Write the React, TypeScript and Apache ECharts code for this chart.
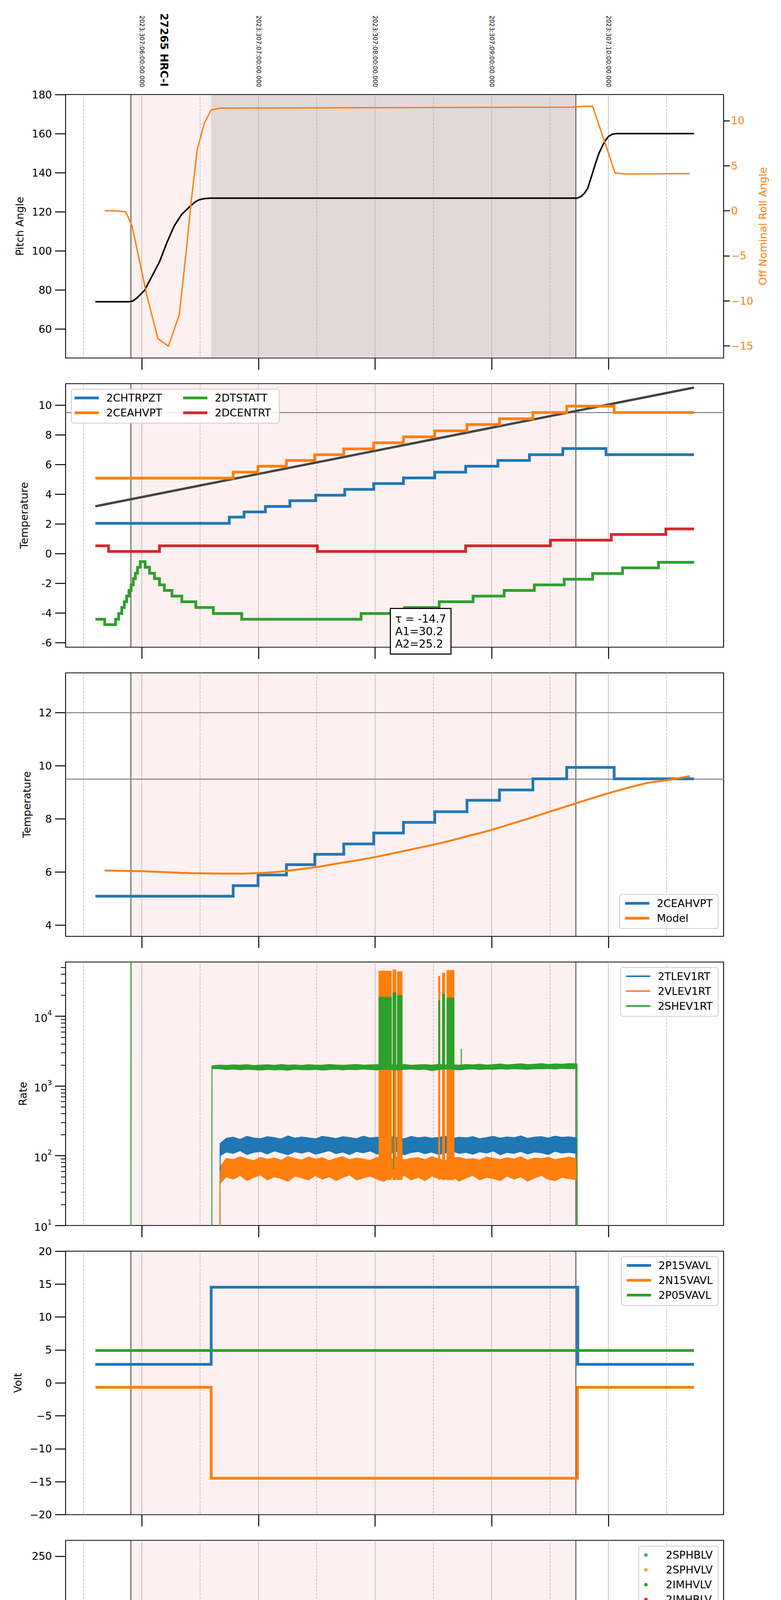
import { useEffect, useRef } from 'react'
import * as echarts from 'echarts'

// time axis: minutes after 00:00 local on 2023-11-03
const T_MIN = 80.8
const T_MAX = 419.3
const HOUR_TICKS = [120, 180, 240, 300, 360]
const HALF_HOUR_TICKS = [90, 150, 210, 270, 330, 390]
const OBS_START = 114.4
const OBS_END = 343.3
const DWELL_START = 155.7
const OBS_LABEL_T = 131.6
const OBS_LABEL = '27265 HRC-I'
const DATE_TITLE = '2023-11-03 (307)'
const TAU_TEXT = 'τ = -14.7\nA1=30.2\nA2=25.2'

const BLUE = '#1f77b4'
const ORANGE = '#ff7f0e'
const GREEN = '#2ca02c'
const RED = '#d62728'
const PINK = '#fdf0f0'
const DWELL = '#e3d8d8'
const GRID_GREY = '#b0b0b0'

// ---- y ticks ----
const PITCH_TICKS = [60, 80, 100, 120, 140, 160, 180]
const ROLL_TICKS = [-15, -10, -5, 0, 5, 10]
const TEMP_TICKS = [-6, -4, -2, 0, 2, 4, 6, 8, 10]
const MODEL_TICKS = [4, 6, 8, 10, 12]
const RATE_DECADES = [1, 2, 3, 4]
const VOLT_TICKS = [-20, -15, -10, -5, 0, 5, 10, 15, 20]
const HV_TICKS = [0, 50, 100, 150, 200, 250]
const DET_TICKS = [0, 2.5, 5, 7.5, 10, 12.5, 15, 17.5]
const FEA_TICKS = [-10, -8, -6, -4, -2, 0]

// ---- panel 1: attitude ----
const pitch = [[96.1, 74], [113.2, 74], [115.2, 74.3], [117.5, 75.9], [121.4, 79.8], [125.3, 87.2], [129.1, 94.4], [132.9, 104.2], [136.7, 112.8], [140.6, 118.8], [144.5, 122.5], [147.4, 125], [149.6, 126.2], [152.4, 126.8], [155.4, 127], [344, 127], [346.2, 128], [347.7, 129.5], [349.4, 132], [351.3, 138], [353.3, 144.4], [355.2, 150], [357.1, 154], [358.8, 157], [360.2, 158.6], [361.8, 159.6], [363.8, 160], [404.1, 160]]
const roll = [[100.9, 0], [106.5, 0], [111.7, -0.12], [115, -1.7], [122.6, -9.4], [128.3, -14.2], [133.7, -15.04], [139.3, -11.52], [142.4, -5.42], [145.5, 1.2], [148.5, 6.77], [152.1, 9.69], [155.7, 11.2], [160.6, 11.39], [251.1, 11.45], [341.7, 11.5], [344.3, 11.55], [347.3, 11.6], [351.9, 11.6], [363.5, 4.2], [368.7, 4.08], [381.9, 4.1], [401.9, 4.12]]

// ---- panel 2: temperatures (step starts) ----
const chtrpzt = [[96.1, 2.04], [165, 2.46], [172.6, 2.81], [183.6, 3.18], [196.2, 3.57], [209.5, 3.94], [224.4, 4.33], [239.3, 4.72], [254.6, 5.1], [270.7, 5.49], [286.6, 5.89], [303.2, 6.28], [319.4, 6.67], [336.6, 7.08], [358.8, 6.67]]
const ceahvpt = [[96.1, 5.09], [167, 5.49], [179.8, 5.89], [194.4, 6.28], [209, 6.67], [223.9, 7.06], [239.3, 7.47], [254.6, 7.87], [270.7, 8.27], [287.3, 8.7], [304, 9.09], [321.2, 9.51], [338.6, 9.94], [363, 9.51]]
const dtstatt = [[96.1, -4.42], [100.9, -4.78], [106.5, -4.42], [108.1, -4.03], [109.7, -3.63], [111, -3.24], [112.2, -2.86], [113.4, -2.48], [114.5, -2.1], [115.6, -1.68], [116.7, -1.32], [117.8, -0.92], [119.2, -0.54], [121.7, -0.92], [124, -1.32], [126.5, -1.68], [129.1, -2.1], [131.6, -2.48], [135.5, -2.86], [140.6, -3.24], [147.8, -3.63], [156.8, -4.03], [171.4, -4.42], [232.8, -4.03], [255.1, -3.63], [273, -3.24], [290.4, -2.86], [306.4, -2.48], [321.9, -2.1], [337.3, -1.72], [351.9, -1.34], [367.3, -0.96], [385.8, -0.58]]
const dcentrt = [[96.1, 0.53], [102.9, 0.15], [129.1, 0.53], [210.3, 0.15], [286.6, 0.53], [330.2, 0.91], [361.5, 1.29], [389.6, 1.67]]
const trendLine = [[96.1, 3.19], [404.1, 11.19]]
const TEMP_LIMIT = 9.5

// ---- panel 3: model ----
const model = [[100.9, 6.06], [121.4, 6.03], [144.4, 5.96], [162.4, 5.94], [172.6, 5.94], [182.8, 5.97], [190.6, 6.01], [200.8, 6.1], [211, 6.2], [221.3, 6.33], [231.5, 6.45], [241.8, 6.59], [252.1, 6.75], [262.3, 6.91], [270, 7.03], [277.7, 7.16], [287.9, 7.36], [298.2, 7.55], [308.5, 7.78], [318.7, 8.01], [328.9, 8.25], [339.2, 8.49], [349.4, 8.73], [359.6, 8.96], [369.9, 9.17], [380.1, 9.36], [390.4, 9.46], [401.9, 9.61]]
const MODEL_LIMITS = [12, 9.5]

// ---- panel 4: rates (noisy envelopes) ----
const rateTimes = [156.1, 160.3, 163.5, 167, 170.6, 174.1, 177.6, 181.1, 184.6, 188.2, 191.7, 195.2, 198.7, 202.3, 205.8, 209.3, 212.8, 216.4, 219.9, 223.4, 226.9, 230.4, 234, 237.5, 241, 244.5, 248.1, 251.6, 255.1, 258.6, 262.2, 265.7, 269.2, 272.7, 276.2, 279.8, 283.3, 286.8, 290.3, 293.8, 297.4, 300.9, 304.4, 307.9, 311.5, 315, 318.5, 322, 325.6, 329.1, 332.6, 336.1, 339.7, 343.9]
const shevHi = [1950, 2000, 1980, 2010, 1990, 2030, 1970, 2000, 2020, 1985, 2040, 1995, 2010, 1980, 2025, 2000, 1990, 2035, 2005, 1985, 2015, 2045, 1995, 2010, 2030, 1990, 2020, 2000, 2040, 1985, 2010, 2030, 1995, 2050, 2005, 2020, 1990, 2040, 2010, 2060, 2000, 2030, 2070, 2015, 2050, 2090, 2030, 2060, 2100, 2040, 2080, 2060, 2100, 2080]
const shevLo = [1780, 1760, 1720, 1750, 1700, 1740, 1710, 1690, 1730, 1700, 1720, 1680, 1740, 1710, 1700, 1730, 1690, 1720, 1740, 1700, 1730, 1710, 1750, 1720, 1700, 1740, 1720, 1690, 1730, 1750, 1710, 1740, 1660, 1720, 1750, 1730, 1700, 1740, 1760, 1720, 1750, 1730, 1760, 1740, 1770, 1750, 1730, 1770, 1760, 1780, 1750, 1790, 1770, 1780]
const tlevHi = [null, 150, 178, 185, 172, 190, 180, 176, 188, 182, 174, 193, 179, 186, 181, 175, 190, 184, 177, 188, 183, 176, 191, 180, 185, 178, 187, 182, 176, 189, 181, 186, 179, 184, 190, 177, 185, 181, 188, 176, 183, 190, 179, 186, 182, 192, 178, 185, 188, 180, 191, 184, 187, 180]
const tlevLo = [null, 100, 113, 108, 118, 104, 112, 115, 106, 117, 110, 103, 114, 109, 116, 105, 111, 118, 107, 113, 104, 115, 110, 117, 106, 112, 108, 116, 103, 111, 115, 107, 113, 104, 110, 116, 108, 112, 105, 114, 109, 117, 103, 112, 108, 115, 106, 113, 110, 104, 116, 109, 112, 108]
const vlevHi = [null, 70, 92, 88, 97, 90, 85, 95, 89, 93, 86, 98, 91, 87, 96, 90, 94, 85, 92, 97, 88, 93, 90, 86, 95, 91, 89, 96, 87, 92, 94, 88, 97, 90, 86, 93, 95, 89, 91, 87, 96, 92, 88, 94, 90, 97, 86, 93, 91, 95, 88, 92, 96, 90]
const vlevLo = [null, 40, 50, 46, 52, 44, 49, 53, 45, 50, 47, 43, 51, 48, 45, 52, 46, 50, 44, 49, 53, 45, 48, 51, 46, 43, 50, 47, 52, 45, 49, 44, 51, 47, 46, 50, 43, 48, 52, 45, 49, 47, 44, 51, 46, 50, 43, 48, 52, 46, 44, 49, 47, 45]
const vlevSpikes = [[241.8, 248.6, 45, 45000], [249, 250.9, 45, 47000], [251.3, 254.1, 45, 44000], [272.5, 273.5, 45, 38000], [274.5, 276, 45, 42000], [276.8, 280.8, 45, 46000]]
const shevSpikes = [[241.8, 248.6, 1800, 19000], [249, 250.9, 1800, 22000], [251.3, 254.1, 1800, 20000], [272.5, 273.5, 1800, 17000], [274.5, 276, 1800, 21000], [276.8, 280.8, 1800, 18500], [249.3, 249.7, 64, 1800], [284.1, 284.6, 1800, 3400]]
const shevEdges = [[[114.4, 1], [114.5, 1e6]], [[156, 1], [156.1, 1850]], [[343.9, 1850], [344, 1]]]
const tlevEdges = [[[160.2, 1], [160.3, 140]], [[343.9, 140], [344, 1]]]
const vlevEdges = [[[160, 1], [160.2, 60]], [[343.9, 65], [344, 1]]]

// ---- panel 5: voltages ----
const p15vavl = [[96.1, 2.82], [155.7, 14.53], [344.3, 2.82]]
const n15vavl = [[96.1, -0.66], [155.7, -14.47], [344.1, -0.66]]
const p05vavl = [[96.1, 4.92]]

// ---- panel 6: HV monitor ----
const imhblvDecay = [[157.3, 127.4], [157.3, 125.5], [157.4, 123], [157.5, 120.4], [157.6, 115], [157.7, 111.3], [157.9, 105.8], [158.1, 102.1], [158.3, 99], [158.5, 96.6], [158.8, 93], [159.1, 90.5], [159.4, 89.3], [159.7, 87.8]]
const imhblvFlat = [[159.7, 86.7], [344.3, 86.7]]
const imhblvExtra = [[241.6, 79.7], [242.3, 79.7], [243, 79.7], [243.7, 79.7], [244.3, 79.7], [247.6, 79.7], [248.3, 79.7], [249, 79.7], [249.7, 79.7], [250.4, 79.7]]
const imhvlvDecay = [[157.3, 102], [157.8, 97.3], [158.5, 91], [159.2, 86.3], [159.8, 82]]
const imhvlvFlat = [[160, 80.1], [344.3, 80.1]]
const imhvlvExtra = [[241.6, 127.4], [242.3, 127.4], [243, 127.4], [243.7, 127.4], [244.3, 127.4], [247.6, 127.4], [248.3, 127.4], [249, 127.4], [249.7, 127.4], [250.4, 127.4]]
const sphblv: number[][] = []
const sphvlv: number[][] = []

// ---- panel 7: detector temps ----
const spinatm = [[155.7, 3.72], [167.5, 3.25], [264.3, 3.72], [306.3, 4.16]]
const sphvatm = [[155.7, 14.43], [193.1, 14.72], [209.7, 15.0], [228.4, 15.29], [241.8, 15.56], [257.6, 15.85], [272.5, 16.1], [286.6, 16.38], [301.2, 16.68], [315.5, 16.96], [329.6, 17.25]]
const iminatm = [[155.7, 1.07], [194.4, 1.51], [284.1, 1.96], [339.9, 2.37]]
const imhvatm = [[155.7, -1], [155.8, 13.87], [166.5, 14.15], [173.2, 14.43], [179.8, 14.72], [187, 15.0], [194.1, 15.28], [201.9, 15.56], [211, 15.84], [220.3, 16.1], [229.7, 16.4], [252.1, 16.96], [264.9, 17.28], [276.3, 17.54], [290.4, 17.82], [303.3, 18.1], [317.3, 18.41], [331.4, 18.69], [344.1, 25], [344.2, -2]]
const spinatmSpikes = [[241, 252.1, 0, 3.25], [253.1, 254.1, 0, 3.25], [273.8, 275.6, 0, 3.7], [278.5, 280.3, 0, 3.7]]
const sphvatmSpikes = [[241, 254.1, 10.75, 15.56], [241.6, 242.4, 10.5, 11], [273.8, 276.3, 11.37, 16.1], [277.7, 280.3, 11.37, 16.1]]
const iminatmSpikes = [[241, 252.1, 1.5, 3.3], [253.1, 254.1, 1.5, 3.3], [274.5, 275.8, 1.5, 3.79], [278.2, 279.7, 1.5, 3.79]]
const imhvatmSpikes = [[240.5, 254.1, 15.44, 16.78], [249.3, 250.1, 10.8, 16.78], [272.5, 276.3, 16.1, 17.3], [277.7, 279.7, 16.1, 17.54]]

// ---- panel 8: FEA temps ----
const fhtrmzt = [[96.1, -9.22], [148.9, -8.8], [170.6, -8.39], [178.5, -7.99], [186.2, -7.57], [193.1, -7.18], [201.4, -6.77], [209, -6.37], [216.6, -5.98], [224.6, -5.58], [232.9, -5.18], [241, -4.81], [249.5, -4.43], [257.6, -4.04], [266.7, -3.66], [275.8, -3.27], [285.3, -2.89], [294.6, -2.51], [304, -2.13], [314.3, -1.75], [324.3, -1.38], [334.2, -1.0], [344.3, -0.63], [374.2, -1.0]]
const fradpyt = [[96.1, -10.6], [138.5, -10.07], [146.2, -10.6], [175.7, -10.07], [184.1, -9.6], [192.7, -9.22], [200.8, -8.8], [209.5, -8.39], [218.3, -7.99], [227.2, -7.57], [236.2, -7.18], [245.1, -6.77], [254.6, -6.37], [264.3, -5.98], [273.8, -5.58], [283.3, -5.18], [293.8, -4.81], [304.5, -4.43], [315.3, -4.04], [325.8, -3.66], [337.3, -3.27]]
const fepratm = [[155.7, -7.85], [156.5, -7.4], [157.3, -7.0], [159.8, -6.6], [162.4, -6.2], [165.4, -5.8], [168.7, -5.42], [172.6, -5.0], [178.3, -4.62], [184.6, -4.22], [191.1, -3.83], [198.7, -3.43], [206.5, -3.03], [214.1, -2.64], [222.6, -2.27], [231.5, -1.88], [252.1, -1.44], [259.7, -1.05], [269.5, -0.65], [280.2, -0.25], [290.4, 0.18], [300.7, 0.59], [312.3, 0.96], [323.8, 1.35], [336.5, 1.79]]
const fe00atm = [[155.7, -11], [155.8, -6.71], [165.4, -6.35], [171.9, -5.98], [178.3, -5.7], [182.8, -5.28], [188, -4.9], [194.4, -4.53], [200.9, -4.2], [204.7, -3.83], [211, -3.47], [218.3, -3.1], [223.8, -2.8], [230.2, -2.45], [236.7, -2.12], [254.1, -1.5], [258.4, -1.12], [262.2, -0.78], [280.2, -0.13], [287.9, 0.2], [295.6, 0.51], [303.3, 0.82], [311, 1.15], [318.6, 1.46], [327.6, 1.76], [336.5, 1.93], [344.1, 5], [344.2, -12]]
const fepratmSpikes = [[241, 252.1, -4.65, -1.88], [253.3, 254.3, -4.65, -1.88], [274.2, 275, -4.65, -0.65]]
const fe00atmSpikes = [[241, 254.1, -1.86, 3], [272.5, 280.3, -0.8, 3], [249.3, 250.1, -11, 3], [182.1, 182.6, -6.1, -5.7], [186.5, 187, -5.28, -4.5], [203.2, 203.7, -4.6, -4.2], [230.7, 231.2, -2.45, -2.0], [265.2, 265.7, -0.78, -0.4], [310, 310.5, 0.82, 1.46], [322.7, 323.2, 0.43, 1.46]]

// ---- layout ----
const GRID_L = 168
const GRID_R = 147
const TOP0 = 242
const PANEL_STEP = 740.25
const PANEL_H = 674.5
const panelTop = (i: number) => TOP0 + PANEL_STEP * i
const FONT = 'DejaVu Sans'

const minus = (v: number) => String(v).replace('-', '\u2212')
const plain = (v: number) => String(v)
const lg = (v: number) => Math.log10(v)
const RATE_MAX = lg(60000)

const PANELS = [
  { min: 45.2, max: 180, ticks: PITCH_TICKS, name: 'Pitch Angle', gap: 104, fmt: plain },
  { min: -6.3, max: 11.45, ticks: TEMP_TICKS, name: 'Temperature', gap: 93, fmt: plain },
  { min: 3.58, max: 13.5, ticks: MODEL_TICKS, name: 'Temperature', gap: 86, fmt: plain },
  { min: 1, max: RATE_MAX, ticks: RATE_DECADES, name: 'Rate', gap: 96, fmt: (v: number) => `{b|10}{s|${v}}` },
  { min: -20, max: 20, ticks: VOLT_TICKS, name: 'Volt', gap: 109, fmt: minus },
  { min: 0, max: 266, ticks: HV_TICKS, name: 'HV Monitor', gap: 103, fmt: plain },
  { min: 0, max: 19.31, ticks: DET_TICKS, name: 'Detector Temp', gap: 112, fmt: (v: number) => v.toFixed(1) },
  { min: -10.31, max: 1.97, ticks: FEA_TICKS, name: 'FEA Temp', gap: 109, fmt: plain },
]

const withEnd = (steps: number[][], tEnd: number) => [...steps, [tEnd, steps[steps.length - 1][1]]]

function line(name: string, g: number, data: any[], color: string, width: number, step = false, y?: number) {
  return {
    type: 'line', name, xAxisIndex: g, yAxisIndex: y ?? g, data,
    showSymbol: false, symbol: 'none', step: step ? 'end' : false,
    lineStyle: { color, width, cap: 'butt', join: 'miter' },
    itemStyle: { color }, z: 3, silent: true, animation: false,
  }
}

function decorSeries(g: number, yRef: number, dwell: boolean) {
  return {
    type: 'custom', name: '_decor' + g, xAxisIndex: g, yAxisIndex: g, z: 1, silent: true,
    data: [[T_MIN, yRef]],
    renderItem: (params: any, api: any) => {
      const cs = params.coordSys
      const px = (t: number) => api.coord([t, yRef])[0]
      const kids: any[] = []
      const shade = (t0: number, t1: number, fill: string) =>
        kids.push({ type: 'rect', shape: { x: px(t0), y: cs.y + 1.2, width: px(t1) - px(t0), height: cs.height - 2.4 }, style: { fill } })
      const vline = (t: number, stroke: string, w: number, dash?: number[]) =>
        kids.push({ type: 'line', shape: { x1: px(t), y1: cs.y, x2: px(t), y2: cs.y + cs.height }, style: { stroke, lineWidth: w, lineDash: dash } })
      shade(OBS_START, OBS_END, PINK)
      if (dwell) shade(DWELL_START, OBS_END, DWELL)
      HALF_HOUR_TICKS.forEach((t) => vline(t, GRID_GREY, 1.4, [6, 3]))
      HOUR_TICKS.forEach((t) => vline(t, GRID_GREY, 1.4))
      vline(OBS_START, '#000', 1.5)
      vline(OBS_END, '#000', 1.5)
      return { type: 'group', children: kids }
    },
  }
}

function bandSeries(name: string, g: number, hi: (number | null)[], lo: (number | null)[], color: string) {
  const first = hi.findIndex((v) => v != null)
  return {
    type: 'custom', name, xAxisIndex: g, yAxisIndex: g, z: 3, silent: true,
    data: [[rateTimes[first], lg(hi[first] as number)]],
    renderItem: (_p: any, api: any) => {
      const top: number[][] = []
      const bottom: number[][] = []
      rateTimes.forEach((t, k) => {
        if (hi[k] == null) return
        top.push(api.coord([t, lg(hi[k] as number)]))
        bottom.push(api.coord([t, lg(lo[k] as number)]))
      })
      return { type: 'polygon', shape: { points: top.concat(bottom.reverse()) }, style: { fill: color, stroke: color, lineWidth: 2 } }
    },
  }
}

function blockSeries(name: string, g: number, blocks: number[][], color: string, tf: (v: number) => number = (v) => v) {
  const p = PANELS[g]
  const cy = (v: number) => Math.min(Math.max(tf(v), p.min), p.max)
  return {
    type: 'custom', name, xAxisIndex: g, yAxisIndex: g, z: 3, silent: true,
    data: blocks.map((b) => [b[0], cy(b[2])]),
    renderItem: (params: any, api: any) => {
      const b = blocks[params.dataIndex]
      const p0 = api.coord([b[0], cy(b[3])])
      const p1 = api.coord([b[1], cy(b[2])])
      return { type: 'rect', shape: { x: p0[0], y: p0[1], width: Math.max(p1[0] - p0[0], 2.5), height: p1[1] - p0[1] }, style: { fill: color } }
    },
  }
}

function legendBox(items: [string, string][], pos: any, opts: any = {}) {
  return {
    show: true, orient: 'vertical', selectedMode: false, ...pos,
    data: items.map(([name, color]) => ({ name, itemStyle: { color, borderWidth: 0 } })),
    icon: opts.icon ?? 'rect', itemWidth: opts.itemWidth ?? 62, itemHeight: opts.itemHeight ?? 7, itemGap: 11,
    padding: opts.padding ?? [9, 14, 13, 14],
    backgroundColor: opts.bare ? 'transparent' : 'rgba(255,255,255,0.85)',
    borderColor: opts.bare ? 'transparent' : '#cccccc', borderWidth: opts.bare ? 0 : 2, borderRadius: 6,
    formatter: '{t|{name}}',
    textStyle: { color: '#000', fontSize: 27, fontFamily: FONT, rich: { t: { fontSize: 27, fontFamily: FONT, lineHeight: 30, padding: [0, 0, 0, opts.textGap ?? 14] } } },
  }
}

const legendH = (n: number) => 9 + 30 * n + 11 * (n - 1) + 13
const LEGEND_RIGHT = GRID_R + 14

function buildOption() {
  const tickStyle = { color: '#000', width: 2.5 }
  const grids = PANELS.map((_, i) => ({
    left: GRID_L, right: GRID_R, top: panelTop(i), height: PANEL_H,
    show: true, borderColor: '#000', borderWidth: 2.2, backgroundColor: 'transparent', containLabel: false, outerBoundsMode: 'none',
  }))

  const hiddenLine = { show: false, onZero: false }
  const xAxes: any[] = PANELS.map((_, i) => ({
    type: 'value', gridIndex: i, position: 'bottom', min: T_MIN, max: T_MAX,
    axisLine: hiddenLine, splitLine: { show: false },
    axisTick: { show: true, customValues: HOUR_TICKS, length: 30, lineStyle: tickStyle },
    axisLabel: i === 7
      ? { show: true, customValues: HOUR_TICKS, formatter: (v: number) => String(Math.round(v / 60)).padStart(2, '0') + 'h', fontSize: 27, margin: 36, color: '#000', fontFamily: FONT }
      : { show: false },
    ...(i === 7 ? { name: DATE_TITLE, nameLocation: 'middle', nameGap: 66, nameTextStyle: { fontSize: 33, color: '#000', fontFamily: FONT } } : {}),
  }))
  // minor "30" labels on the last panel
  xAxes.push({
    type: 'value', gridIndex: 7, position: 'bottom', min: T_MIN, max: T_MAX,
    axisLine: hiddenLine, splitLine: { show: false }, axisTick: { show: false },
    axisLabel: { show: true, customValues: HALF_HOUR_TICKS, formatter: () => '30', fontSize: 18, margin: 7, color: '#000', fontFamily: FONT },
  })
  // top labels on the first panel
  xAxes.push({
    type: 'value', gridIndex: 0, position: 'top', min: T_MIN, max: T_MAX,
    axisLine: hiddenLine, splitLine: { show: false }, axisTick: { show: false },
    axisLabel: {
      show: true, customValues: HOUR_TICKS, rotate: 90, margin: 19, fontSize: 15.5, color: '#000', fontFamily: FONT,
      formatter: (v: number) => `2023:307:${String(Math.round(v / 60) + 4).padStart(2, '0')}:00:00.000`,
    },
  })
  xAxes.push({
    type: 'value', gridIndex: 0, position: 'top', min: T_MIN, max: T_MAX,
    axisLine: hiddenLine, splitLine: { show: false }, axisTick: { show: false },
    axisLabel: { show: true, customValues: [OBS_LABEL_T], rotate: 90, margin: 20, fontSize: 27, fontWeight: 'bold', color: '#000', fontFamily: FONT, formatter: () => OBS_LABEL },
  })

  const yAxes: any[] = PANELS.map((p, i) => ({
    type: 'value', gridIndex: i, position: 'left', min: p.min, max: p.max,
    axisLine: hiddenLine, splitLine: { show: false },
    axisTick: { show: true, customValues: p.ticks, length: 27, lineStyle: tickStyle },
    axisLabel: {
      show: true, customValues: p.ticks, formatter: p.fmt, fontSize: 27, margin: 35, color: '#000', fontFamily: FONT,
      rich: { b: { fontSize: 27, fontFamily: FONT, color: '#000', lineHeight: 36, verticalAlign: 'bottom' }, s: { fontSize: 18, fontFamily: FONT, color: '#000', lineHeight: 18, verticalAlign: 'top' } },
    },
    name: p.name, nameLocation: 'middle', nameGap: p.gap, nameTextStyle: { fontSize: 27, color: '#000', fontFamily: FONT },
  }))
  // roll angle on the right of panel 1
  yAxes.push({
    type: 'value', gridIndex: 0, position: 'right', min: -16.35, max: 12.9,
    axisLine: hiddenLine, splitLine: { show: false },
    axisTick: { show: true, customValues: ROLL_TICKS, length: 16, lineStyle: tickStyle },
    axisLabel: { show: true, customValues: ROLL_TICKS, formatter: minus, fontSize: 27, margin: 19, color: ORANGE, fontFamily: FONT },
    name: 'Off Nominal Roll Angle', nameLocation: 'middle', nameGap: 84, nameTextStyle: { fontSize: 27, color: ORANGE, fontFamily: FONT },
  })
  // minor decade ticks on the rate panel
  const minorRate = RATE_DECADES.flatMap((d) => [2, 3, 4, 5, 6, 7, 8, 9].map((m) => d + lg(m))).filter((v) => v < RATE_MAX)
  yAxes.push({
    type: 'value', gridIndex: 3, position: 'left', min: 1, max: RATE_MAX,
    axisLine: hiddenLine, splitLine: { show: false }, axisLabel: { show: false },
    axisTick: { show: true, customValues: minorRate, length: 12, lineStyle: { color: '#000', width: 2 } },
  })

  const rl = (pts: number[][]) => pts.map(([t, v]) => [t, lg(v)])

  const series: any[] = [
    ...PANELS.map((p, i) => decorSeries(i, p.min, i === 0)),
    // panel 1
    line('Pitch', 0, pitch, '#000', 4),
    line('Roll', 0, roll, ORANGE, 3.5, false, 8),
    // panel 2
    line('_lim2', 1, [[T_MIN, TEMP_LIMIT], [T_MAX, TEMP_LIMIT]], '#808080', 2.5),
    line('_trend', 1, trendLine, '#444444', 6),
    line('2CHTRPZT', 1, withEnd(chtrpzt, 404.1), BLUE, 7, true),
    line('2CEAHVPT', 1, withEnd(ceahvpt, 404.1), ORANGE, 7, true),
    line('2DTSTATT', 1, withEnd(dtstatt, 404.1), GREEN, 7, true),
    line('2DCENTRT', 1, withEnd(dcentrt, 404.1), RED, 7, true),
    // panel 3
    ...MODEL_LIMITS.map((v, k) => line('_lim3_' + k, 2, [[T_MIN, v], [T_MAX, v]], '#808080', 2.5)),
    line('2CEAHVPT', 2, withEnd(ceahvpt, 404.1), BLUE, 7, true),
    line('Model', 2, model, ORANGE, 5),
    // panel 4
    bandSeries('2TLEV1RT', 3, tlevHi, tlevLo, BLUE),
    bandSeries('2VLEV1RT', 3, vlevHi, vlevLo, ORANGE),
    blockSeries('2VLEV1RT', 3, vlevSpikes, ORANGE, lg),
    bandSeries('2SHEV1RT', 3, shevHi, shevLo, GREEN),
    blockSeries('2SHEV1RT', 3, shevSpikes, GREEN, lg),
    ...tlevEdges.map((e) => line('2TLEV1RT', 3, rl(e), BLUE, 2.5)),
    ...vlevEdges.map((e) => line('2VLEV1RT', 3, rl(e), ORANGE, 2.5)),
    ...shevEdges.map((e) => line('2SHEV1RT', 3, rl(e), GREEN, 2.5)),
    // panel 5
    line('2P15VAVL', 4, withEnd(p15vavl, 404.1), BLUE, 7, true),
    line('2N15VAVL', 4, withEnd(n15vavl, 404.1), ORANGE, 7, true),
    line('2P05VAVL', 4, withEnd(p05vavl, 404.1), GREEN, 7, true),
    // panel 6
    { type: 'scatter', name: '2SPHBLV', xAxisIndex: 5, yAxisIndex: 5, data: sphblv, symbolSize: 8, itemStyle: { color: BLUE }, z: 3, silent: true },
    { type: 'scatter', name: '2SPHVLV', xAxisIndex: 5, yAxisIndex: 5, data: sphvlv, symbolSize: 8, itemStyle: { color: ORANGE }, z: 3, silent: true },
    line('2IMHVLV', 5, imhvlvFlat, GREEN, 11),
    { type: 'scatter', name: '2IMHVLV', xAxisIndex: 5, yAxisIndex: 5, data: [...imhvlvDecay, ...imhvlvExtra], symbolSize: 8, itemStyle: { color: GREEN }, z: 3, silent: true },
    line('2IMHBLV', 5, imhblvFlat, RED, 10),
    { type: 'scatter', name: '2IMHBLV', xAxisIndex: 5, yAxisIndex: 5, data: [...imhblvDecay, ...imhblvExtra], symbolSize: 8, itemStyle: { color: RED }, z: 3, silent: true },
    // panel 7
    line('2SPINATM', 6, withEnd(spinatm, 344), BLUE, 7, true),
    blockSeries('2SPINATM', 6, spinatmSpikes, BLUE),
    line('2SPHVATM', 6, withEnd(sphvatm, 344), ORANGE, 7, true),
    blockSeries('2SPHVATM', 6, sphvatmSpikes, ORANGE),
    line('2IMINATM', 6, withEnd(iminatm, 344), GREEN, 7, true),
    blockSeries('2IMINATM', 6, iminatmSpikes, GREEN),
    line('2IMHVATM', 6, imhvatm, RED, 7, true),
    blockSeries('2IMHVATM', 6, imhvatmSpikes, RED),
    // panel 8
    line('2FHTRMZT', 7, withEnd(fhtrmzt, 404.1), BLUE, 7, true),
    line('2FRADPYT', 7, withEnd(fradpyt, 404.1), ORANGE, 7, true),
    line('2FEPRATM', 7, withEnd(fepratm, 344.1), GREEN, 7, true),
    blockSeries('2FEPRATM', 7, fepratmSpikes, GREEN),
    line('2FE00ATM', 7, fe00atm, RED, 7, true),
    blockSeries('2FE00ATM', 7, fe00atmSpikes, RED),
  ]

  const pb = (i: number) => panelTop(i) + PANEL_H
  const legends = [
    legendBox([['2CHTRPZT', BLUE], ['2CEAHVPT', ORANGE]], { left: GRID_L + 15, top: panelTop(1) + 14 }, { padding: [9, 300, 13, 8] }),
    legendBox([['2DTSTATT', GREEN], ['2DCENTRT', RED]], { left: 469, top: panelTop(1) + 14 }, { padding: [9, 0, 13, 0], bare: true }),
    legendBox([['2CEAHVPT', BLUE], ['Model', ORANGE]], { right: LEGEND_RIGHT, top: pb(2) - 14 - legendH(2) }),
    legendBox([['2TLEV1RT', BLUE], ['2VLEV1RT', ORANGE], ['2SHEV1RT', GREEN]], { right: LEGEND_RIGHT, top: panelTop(3) + 14 }, { itemHeight: 4 }),
    legendBox([['2P15VAVL', BLUE], ['2N15VAVL', ORANGE], ['2P05VAVL', GREEN]], { right: LEGEND_RIGHT, top: panelTop(4) + 14 }),
    legendBox([['2SPHBLV', BLUE], ['2SPHVLV', ORANGE], ['2IMHVLV', GREEN], ['2IMHBLV', RED]], { right: LEGEND_RIGHT, top: panelTop(5) + 15 }, { icon: 'circle', itemWidth: 50, itemHeight: 9, textGap: 21 }),
    legendBox([['2SPINATM', BLUE], ['2SPHVATM', ORANGE], ['2IMINATM', GREEN], ['2IMHVATM', RED]], { right: LEGEND_RIGHT, top: panelTop(6) + 14 }),
    legendBox([['2FHTRMZT', BLUE], ['2FRADPYT', ORANGE], ['2FEPRATM', GREEN], ['2FE00ATM', RED]], { right: LEGEND_RIGHT, top: pb(7) - 14 - legendH(4) }),
  ]

  return {
    animation: false,
    backgroundColor: '#ffffff',
    textStyle: { fontFamily: FONT },
    grid: grids,
    xAxis: xAxes,
    yAxis: yAxes,
    legend: legends,
    series,
    graphic: [
      {
        type: 'text', x: 1001, y: 1559, z: 100,
        style: {
          text: TAU_TEXT, fontSize: 28, fontFamily: FONT, fill: '#000', lineHeight: 32,
          backgroundColor: '#fff', borderColor: '#000', borderWidth: 2.7, padding: [9, 11, 9, 11],
        },
      },
    ],
  }
}

export default function App() {
  const chartRef = useRef<HTMLDivElement>(null)

  useEffect(() => {
    if (!chartRef.current) return
    const chart = echarts.init(chartRef.current, null, { renderer: 'svg' })
    chart.setOption(buildOption() as any)
    return () => {
      chart.dispose()
    }
  }, [])

  return <div ref={chartRef} style={{ margin: -8, width: 2000, height: 6200, background: '#fff' }} />
}
